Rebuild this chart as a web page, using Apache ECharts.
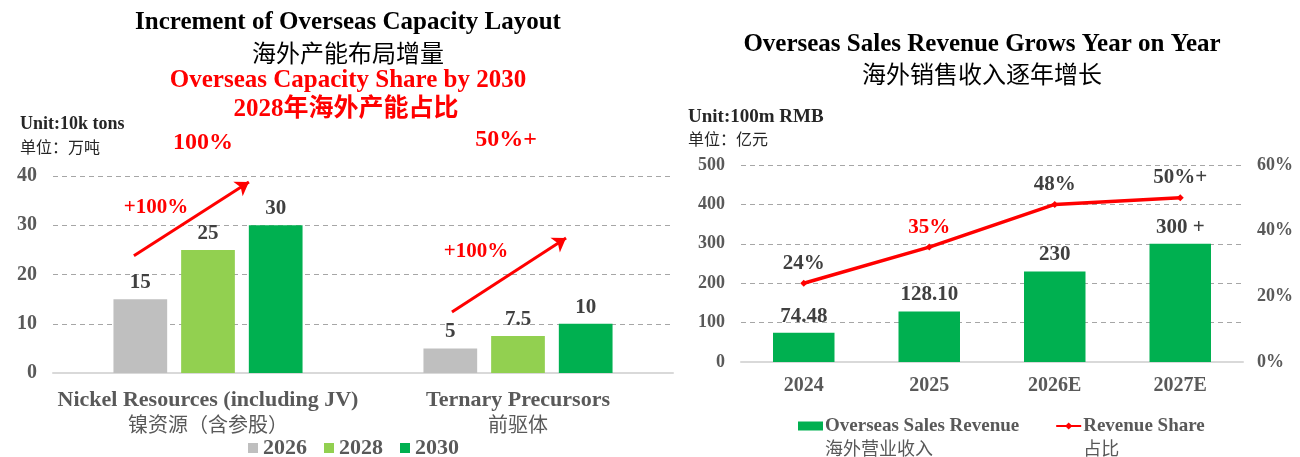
<!DOCTYPE html>
<html>
<head>
<meta charset="utf-8">
<title>Overseas capacity and revenue</title>
<script src="https://cdn.jsdelivr.net/npm/echarts@6/dist/echarts.min.js"></script>
<style>
  html, body { margin: 0; padding: 0; background: #fff; }
  #chart { width: 1300px; height: 457px; }
</style>
</head>
<body>
<div id="chart"></div>
<script>
// ---- data (left chart) ----
var capCategories = ["Nickel Resources (including JV)", "Ternary Precursors"];
var capCategoriesZh = ["镍资源（含参股）", "前驱体"];
var capYears = ["2026", "2028", "2030"];
var cap2026 = [15, 5];
var cap2028 = [25, 7.5];
var cap2030 = [30, 10];
var capTicks = [0, 10, 20, 30, 40];

// ---- data (right chart) ----
var revYears = ["2024", "2025", "2026E", "2027E"];
var revenue = [74.48, 128.10, 230, 300];
var revenueLabels = ["74.48", "128.10", "230", "300 +"];
var revShare = [24, 35, 48, 50];
var revShareLabels = ["24%", "35%", "48%", "50%+"];
var revTicks = [0, 100, 200, 300, 400, 500];
var shareTicks = [0, 20, 40, 60];
var highlightYear = "2025";

var SERIF = '"Liberation Serif", "Noto Sans CJK SC", serif';
var CJK = '"Noto Sans CJK SC", sans-serif';
var RED = "#ff0000";
var GREY_TXT = "#595959";
var DARK_TXT = "#404040";

var myChart = echarts.init(document.getElementById("chart"));

function barLabel(arr) {
  return {
    show: true,
    position: "top",
    distance: 6,
    color: DARK_TXT,
    fontFamily: SERIF,
    fontWeight: "bold",
    fontSize: 21,
    formatter: function (p) { return arr[p.dataIndex]; }
  };
}

var gridLine = { show: true, lineStyle: { color: "#a6a6a6", type: [5, 4], width: 1 } };

myChart.setOption({
  animation: false,
  textStyle: { fontFamily: SERIF },
  grid: [
    { left: 53, right: 627, top: 176, bottom: 84 },
    { left: 741, right: 57, top: 165, bottom: 95 }
  ],
  legend: [
    {
      data: capYears,
      left: 243,
      top: 432,
      icon: "rect",
      itemWidth: 10,
      itemHeight: 10,
      itemGap: 17,
      textStyle: { fontFamily: SERIF, fontWeight: "bold", fontSize: 22, color: GREY_TXT }
    },
    {
      data: [{ name: "Overseas Sales Revenue", icon: "rect" }, { name: "Revenue Share" }],
      left: 793,
      top: 388,
      itemWidth: 25,
      itemHeight: 9,
      itemGap: 36,
      formatter: function (name) {
        var zh = name === "Revenue Share" ? "占比" : "海外营业收入";
        return "\n{en|" + name + "}\n{zh|" + zh + "}";
      },
      textStyle: {
        color: GREY_TXT,
        lineHeight: 22,
        padding: [0, 0, 0, -3],
        rich: {
          en: { fontFamily: SERIF, fontWeight: "bold", fontSize: 19, color: GREY_TXT, lineHeight: 22 },
          zh: { fontFamily: CJK, fontSize: 18, color: GREY_TXT, lineHeight: 22 }
        }
      }
    }
  ],
  xAxis: [
    {
      type: "category",
      gridIndex: 0,
      data: capCategories,
      axisTick: { show: false },
      axisLine: { lineStyle: { color: "#d9d9d9", width: 2 } },
      axisLabel: {
        margin: 15,
        lineHeight: 23,
        formatter: function (v, i) {
          return "{en|" + v + "}\n{zh|" + capCategoriesZh[i] + "}";
        },
        rich: {
          en: { fontFamily: SERIF, fontWeight: "bold", fontSize: 22, color: GREY_TXT, lineHeight: 24 },
          zh: { fontFamily: CJK, fontSize: 20, color: GREY_TXT, lineHeight: 24 }
        }
      }
    },
    {
      // hidden value axis used only to place the arrow annotations
      type: "value",
      gridIndex: 0,
      min: 0,
      max: 2,
      show: false
    },
    {
      type: "category",
      gridIndex: 1,
      data: revYears,
      axisTick: { show: false },
      axisLine: { lineStyle: { color: "#d9d9d9", width: 2 } },
      axisLabel: { margin: 14, color: GREY_TXT, fontFamily: SERIF, fontWeight: "bold", fontSize: 20 }
    }
  ],
  yAxis: [
    {
      type: "value",
      gridIndex: 0,
      min: capTicks[0],
      max: capTicks[capTicks.length - 1],
      interval: 10,
      axisLine: { show: false },
      axisTick: { show: false },
      splitLine: gridLine,
      axisLabel: { margin: 16, color: GREY_TXT, fontFamily: SERIF, fontWeight: "bold", fontSize: 20 }
    },
    {
      type: "value",
      gridIndex: 1,
      min: revTicks[0],
      max: revTicks[revTicks.length - 1],
      interval: 100,
      axisLine: { show: false },
      axisTick: { show: false },
      splitLine: gridLine,
      axisLabel: { margin: 16, color: GREY_TXT, fontFamily: SERIF, fontWeight: "bold", fontSize: 18 }
    },
    {
      type: "value",
      gridIndex: 1,
      position: "right",
      min: shareTicks[0],
      max: shareTicks[shareTicks.length - 1],
      interval: 20,
      axisLine: { show: false },
      axisTick: { show: false },
      splitLine: { show: false },
      axisLabel: { margin: 14, color: GREY_TXT, fontFamily: SERIF, fontWeight: "bold", fontSize: 18, formatter: "{value}%" }
    }
  ],
  series: [
    {
      name: "2026", type: "bar", xAxisIndex: 0, yAxisIndex: 0,
      data: cap2026, barGap: "26%", barCategoryGap: "39%",
      itemStyle: { color: "#bfbfbf" },
      label: barLabel(cap2026)
    },
    {
      name: "2028", type: "bar", xAxisIndex: 0, yAxisIndex: 0,
      data: cap2028, barGap: "26%", barCategoryGap: "39%",
      itemStyle: { color: "#92d050" },
      label: barLabel(cap2028)
    },
    {
      name: "2030", type: "bar", xAxisIndex: 0, yAxisIndex: 0,
      data: cap2030, barGap: "26%", barCategoryGap: "39%",
      itemStyle: { color: "#00b050" },
      label: barLabel(cap2030)
    },
    {
      name: "arrows", type: "line", xAxisIndex: 1, yAxisIndex: 0, data: [],
      silent: true,
      markLine: {
        silent: true,
        symbol: ["none", "arrow"],
        symbolSize: 13,
        label: { show: false },
        lineStyle: { color: RED, width: 3, type: "solid" },
        data: [
          [{ coord: [0.261, 23.8] }, { coord: [0.632, 38.8] }],
          [{ coord: [1.287, 12.4] }, { coord: [1.655, 27.4] }]
        ]
      }
    },
    {
      name: "Overseas Sales Revenue", type: "bar", xAxisIndex: 2, yAxisIndex: 1,
      data: revenue, barWidth: "49%",
      itemStyle: { color: "#00b050" },
      label: {
        show: true, position: "top", distance: 6,
        fontFamily: SERIF, fontWeight: "bold", fontSize: 21,
        formatter: function (p) { return revenueLabels[p.dataIndex]; },
        color: function (p) { return revYears[p.dataIndex] === highlightYear ? RED : DARK_TXT; }
      }
    },
    {
      name: "Revenue Share", type: "line", xAxisIndex: 2, yAxisIndex: 2,
      data: revShare.map(function (v, i) {
        return {
          value: v,
          label: { color: revYears[i] === highlightYear ? RED : DARK_TXT }
        };
      }),
      symbol: "diamond",
      symbolSize: 7,
      lineStyle: { color: RED, width: 3.5 },
      itemStyle: { color: RED },
      label: {
        show: true, position: "top", distance: 6,
        fontFamily: SERIF, fontWeight: "bold", fontSize: 21,
        formatter: function (p) { return revShareLabels[p.dataIndex]; }
      }
    }
  ],
  graphic: [
    { type: "text", left: 20, top: 115, style: { text: "Unit:10k tons", font: "bold 18px " + SERIF, fill: "#262626" } },
    { type: "text", left: 20, top: 139, style: { text: "单位：万吨", font: "16px " + CJK, fill: "#262626" } },
    { type: "text", left: 688, top: 108, style: { text: "Unit:100m RMB", font: "bold 19px " + SERIF, fill: "#262626" } },
    { type: "text", left: 688, top: 131, style: { text: "单位：亿元", font: "16px " + CJK, fill: "#262626" } },

    { type: "text", x: 348, y: 23, style: { text: "Increment of Overseas Capacity Layout", font: "bold 25px " + SERIF, fill: "#000", align: "center", verticalAlign: "middle" } },
    { type: "text", x: 348, y: 53, style: { text: "海外产能布局增量", font: "24px " + CJK, fill: "#000", align: "center", verticalAlign: "middle" } },
    { type: "text", x: 348, y: 81, style: { text: "Overseas Capacity Share by 2030", font: "bold 25px " + SERIF, fill: RED, align: "center", verticalAlign: "middle" } },
    { type: "text", x: 346, y: 110, style: { text: "2028年海外产能占比", font: "bold 25px " + SERIF, fill: RED, align: "center", verticalAlign: "middle" } },
    { type: "text", x: 203, y: 143, style: { text: "100%", font: "bold 24px " + SERIF, fill: RED, align: "center", verticalAlign: "middle" } },
    { type: "text", x: 506, y: 140, style: { text: "50%+", font: "bold 24px " + SERIF, fill: RED, align: "center", verticalAlign: "middle" } },
    { type: "text", x: 156, y: 208, style: { text: "+100%", font: "bold 21px " + SERIF, fill: RED, align: "center", verticalAlign: "middle" } },
    { type: "text", x: 476, y: 252, style: { text: "+100%", font: "bold 21px " + SERIF, fill: RED, align: "center", verticalAlign: "middle" } },

    { type: "text", x: 982, y: 45, style: { text: "Overseas Sales Revenue Grows Year on Year", font: "bold 25px " + SERIF, fill: "#000", align: "center", verticalAlign: "middle" } },
    { type: "text", x: 982, y: 74, style: { text: "海外销售收入逐年增长", font: "24px " + CJK, fill: "#000", align: "center", verticalAlign: "middle" } }
  ]
});
</script>
</body>
</html>
